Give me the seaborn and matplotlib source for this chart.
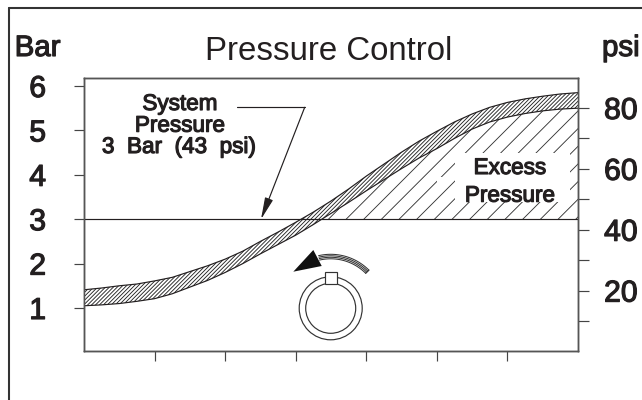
import numpy as np
import pandas as pd
import seaborn as sns
import matplotlib
matplotlib.use("Agg")
import matplotlib.pyplot as plt
from matplotlib.lines import Line2D
from matplotlib.patches import Ellipse, Polygon, Rectangle
import matplotlib.patheffects as pe

# Values
position = [0, 0.25, 0.5, 0.75, 1, 1.25, 1.5, 1.75, 2, 2.25, 2.5, 2.75, 3, 3.25, 3.5,
            3.75, 4, 4.25, 4.5, 4.75, 5, 5.25, 5.5, 5.75, 6, 6.25, 6.5, 6.75, 7]
upper_bar = [1.41, 1.45, 1.50, 1.54, 1.61, 1.69, 1.82, 1.95, 2.10, 2.28, 2.50, 2.71, 2.93, 3.16, 3.41,
             3.68, 3.97, 4.24, 4.51, 4.76, 4.98, 5.19, 5.37, 5.52, 5.63, 5.71, 5.77, 5.82, 5.85]
lower_bar = [1.05, 1.07, 1.10, 1.15, 1.21, 1.32, 1.47, 1.62, 1.80, 2.00, 2.22, 2.43, 2.64, 2.88, 3.13,
             3.38, 3.64, 3.89, 4.14, 4.38, 4.59, 4.82, 5.03, 5.19, 5.30, 5.38, 5.44, 5.48, 5.50]
system_bar = 3
bar_ticks = [1, 2, 3, 4, 5, 6]
psi_ticks = [10, 20, 30, 40, 50, 60, 70, 80]
psi_labels = ["", "20", "", "40", "", "60", "", "80"]
x_ticks = [1, 2, 3, 4, 5, 6]

W, H, DPI = 642, 400, 106
INK = "#231f20"
AXIS = "#555555"

sns.set_theme(style="white")
plt.rcParams["font.family"] = ["Liberation Sans", "DejaVu Sans"]
plt.rcParams["hatch.linewidth"] = 0.6


def fig_xy(x, y):
    # pixel position in the picture -> figure fraction
    return x / W, 1 - y / H


fig = plt.figure(figsize=(W / DPI + 1e-4, H / DPI + 1e-4), dpi=DPI, facecolor="white")
ax = fig.add_axes([84 / W, (H - 351.5) / H, 494 / W, 273.5 / H])

df = pd.DataFrame({"position": position, "upper": upper_bar, "lower": lower_bar})

# Excess pressure area, then the hatched control band on top
ax.fill_between(df["position"], system_bar, df["lower"], where=df["lower"] >= system_bar,
                interpolate=True, facecolor="white", edgecolor="#333333", hatch="//", linewidth=0, zorder=2)
ax.fill_between(df["position"], df["lower"], df["upper"], facecolor="white", edgecolor="#222222",
                hatch="/////////", linewidth=0, zorder=3)
sns.lineplot(data=df, x="position", y="upper", color=INK, lw=0.8, ax=ax, zorder=4)
sns.lineplot(data=df, x="position", y="lower", color=INK, lw=0.8, ax=ax, zorder=4)
ax.axhline(system_bar, color=INK, lw=0.8, zorder=4)

ax.set_xlim(0, 7)
ax.set_ylim(0.02, 6.18)
ax.set_xticks(x_ticks)
ax.set_xticklabels([])
ax.set_yticks(bar_ticks)
ax.set_xlabel("")
ax.set_ylabel("")
ax.tick_params(axis="x", length=6.8, width=0.8, color="#444444", bottom=True)
ax.tick_params(axis="y", length=6.8, width=0.8, color="#444444", left=True, pad=19, labelsize=20.5, labelcolor=INK)

ax2 = ax.twinx()
ax2.set_ylim(0, 89.84)
ax2.set_yticks(psi_ticks)
ax2.set_yticklabels(psi_labels)
ax2.grid(False)
ax2.tick_params(axis="y", length=7.2, width=0.8, color="#444444", right=True, pad=10.5, labelsize=20.5, labelcolor=INK)

for a in (ax, ax2):
    for s in a.spines.values():
        s.set_color(AXIS)
        s.set_linewidth(1.0)

heavy = [pe.withStroke(linewidth=0.8, foreground=INK)]
for lab in ax.get_yticklabels() + ax2.get_yticklabels():
    lab.set_path_effects(heavy)


def put(x, y, s, size, stroke=True, ha="center"):
    fx, fy = fig_xy(x, y)
    t = fig.text(fx, fy, s, fontsize=size, color=INK, ha=ha, va="baseline", zorder=10)
    if stroke:
        t.set_path_effects(heavy)
    return t


put(37.5, 56, "Bar", 20)
put(621, 56, "psi", 20)
put(329, 60, "Pressure Control", 22.4, stroke=False)

put(180, 110, "System", 15.3)
put(180, 131.7, "Pressure", 15.3)
put(179, 153, "3  Bar  (43  psi)", 15.3)

# White gaps in the hatching behind the Excess Pressure label
fx, fy = fig_xy(455, 202)
ax.add_patch(Rectangle((fx, fy), 115 / W, 49 / H, transform=fig.transFigure, facecolor="white",
                       edgecolor="none", zorder=2.5))
fx, fy = fig_xy(437, 185)
ax.add_patch(Rectangle((fx, fy), 8 / W, 8 / H, transform=fig.transFigure, facecolor="white",
                       edgecolor="none", zorder=2.5))
put(510, 174, "Excess", 15.3)
put(510, 201.7, "Pressure", 15.3)

# Leader line with arrow to the 3 bar line
fig.add_artist(Line2D([237 / W, 304.7 / W], [1 - 107.3 / H] * 2, color=INK, lw=0.8))
ax.annotate("", xy=fig_xy(261, 219.3), xytext=fig_xy(304.7, 107.3),
            xycoords="figure fraction", textcoords="figure fraction", zorder=5,
            arrowprops=dict(arrowstyle="-|>,head_length=1.25,head_width=0.24", mutation_scale=10,
                            lw=0.8, color=INK, shrinkA=0, shrinkB=0))

# Knob
cx, cy = 330.7, 308.3
knob_c = fig_xy(cx, cy)
for r in (31.5, 25):
    ax.add_patch(Ellipse(knob_c, 2 * r / W, 2 * r / H, transform=fig.transFigure, facecolor="none",
                         edgecolor="#333333", lw=0.8, zorder=5, clip_on=False))
fx, fy = fig_xy(324.7, 284)
ax.add_patch(Rectangle((fx, fy), 12.6 / W, 11.7 / H, transform=fig.transFigure, facecolor="white",
                       edgecolor="#333333", lw=0.8, zorder=6))

# Turning arrow round the knob
ang = np.radians(np.linspace(-45, 13, 40))
for r in (49.5, 51, 52.5, 54):
    arc_x = (cx + r * np.sin(-ang)) / W
    arc_y = 1 - (cy - r * np.cos(ang)) / H
    fig.add_artist(Line2D(arc_x, arc_y, color="#333333", lw=0.7, zorder=5))
# closed end of the arc
end = np.radians(-45)
fig.add_artist(Line2D([(cx + r * np.sin(-end)) / W for r in (49.5, 54)],
                      [1 - (cy - r * np.cos(end)) / H for r in (49.5, 54)], color="#333333", lw=0.8, zorder=5))
ax.add_patch(Polygon([fig_xy(293.3, 271.7), fig_xy(313.3, 250), fig_xy(321.7, 266)],
                     transform=fig.transFigure, facecolor="#111111", edgecolor="none", zorder=7))

# Outer frame, open on the right and at the bottom
fig.add_artist(Line2D([9 / W, 1], [1 - 8 / H] * 2, color="#333333", lw=1.4))
fig.add_artist(Line2D([9 / W] * 2, [1 - 8 / H, 0], color="#333333", lw=1.4))

fig.savefig("out.png", dpi=DPI)
